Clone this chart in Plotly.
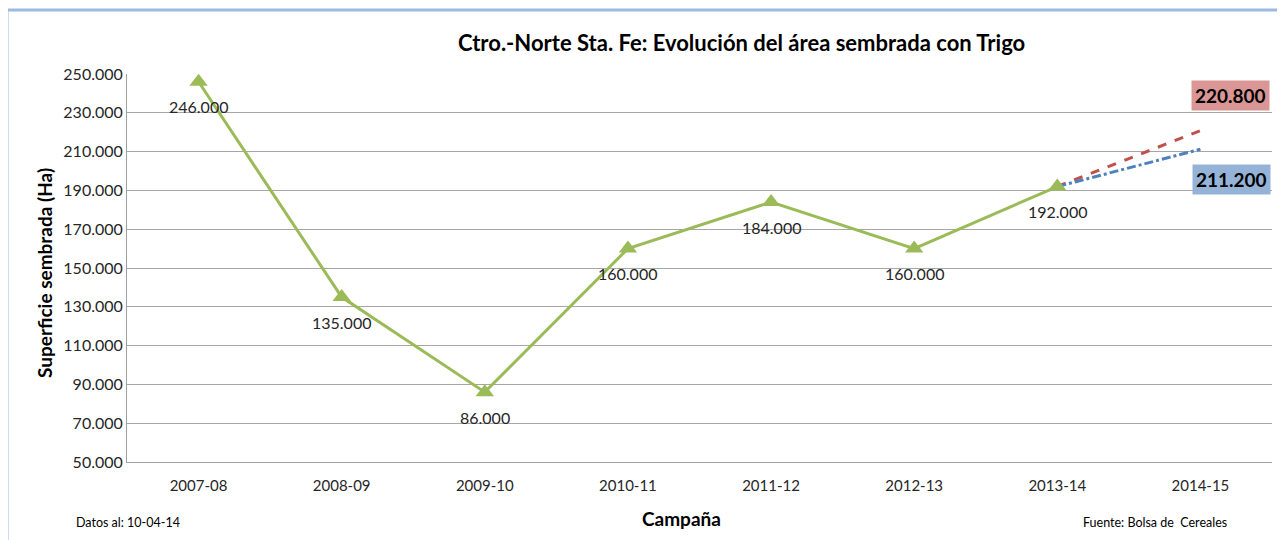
import plotly.graph_objects as go

campanas = ["2007-08", "2008-09", "2009-10", "2010-11", "2011-12", "2012-13", "2013-14", "2014-15"]
superficie = [246000, 135000, 86000, 160000, 184000, 160000, 192000]
proy_x = ["2013-14", "2014-15"]
proy_alta = [192000, 220800]
proy_baja = [192000, 211200]
y_ticks = list(range(50000, 250001, 20000))

W, H = 1285, 540
OFF = 8  # page body margin
ML, MT = 127 - OFF, 74 - OFF
PW, PH = 1145, 388
MR = W - ML - PW
MB = H - MT - PH

def px(x):
    return (x - OFF - ML) / PW

def py(y):
    return (MT + PH - (y - OFF)) / PH

FONT = "Lato, Calibri, sans-serif"

fig = go.Figure()

fig.add_trace(go.Scatter(
    x=proy_x, y=proy_alta, mode="lines",
    line=dict(color="#C0504D", width=3, dash="dash"),
    hoverinfo="skip", showlegend=False))
fig.add_trace(go.Scatter(
    x=proy_x, y=proy_baja, mode="lines",
    line=dict(color="#4F81BD", width=3, dash="dashdot"),
    hoverinfo="skip", showlegend=False))
fig.add_trace(go.Scatter(
    x=campanas[:len(superficie)], y=superficie, mode="lines+markers",
    line=dict(color="#9BBB59", width=3),
    marker=dict(symbol="triangle-up", size=16, color="#9BBB59"),
    showlegend=False))

def fmt(v):
    return f"{v:,.0f}".replace(",", ".")

annotations = []
for c, v in zip(campanas, superficie):
    annotations.append(dict(x=c, y=v, xref="x", yref="y", text=fmt(v),
                            showarrow=False, yshift=-25,
                            font=dict(family=FONT, size=16, color="#262626")))

annotations.append(dict(x=proy_x[1], y=proy_alta[1], xref="x", yref="y",
                        text="<b>" + fmt(proy_alta[1]) + "</b>", showarrow=False,
                        xshift=30, yshift=35, bgcolor="#D99694", borderpad=3,
                        font=dict(family=FONT, size=19, color="#000000")))
annotations.append(dict(x=proy_x[1], y=proy_baja[1], xref="x", yref="y",
                        text="<b>" + fmt(proy_baja[1]) + "</b>", showarrow=False,
                        xshift=31, yshift=-30, bgcolor="#95B3D7", borderpad=3,
                        font=dict(family=FONT, size=19, color="#000000")))

annotations += [
    dict(x=px(741), y=py(42), xref="paper", yref="paper", showarrow=False,
         xanchor="center", yanchor="middle",
         text="<b>Ctro.-Norte Sta. Fe: Evolución del área sembrada con Trigo</b>",
         font=dict(family=FONT, size=22, color="#000000")),
    dict(x=px(44), y=py(273), xref="paper", yref="paper", showarrow=False,
         xanchor="center", yanchor="middle",
         text="<b>Superficie sembrada (Ha)</b>", textangle=-90,
         font=dict(family=FONT, size=19, color="#000000")),
    dict(x=px(681), y=py(518), xref="paper", yref="paper", showarrow=False,
         xanchor="center", yanchor="middle",
         text="<b>Campaña</b>", font=dict(family=FONT, size=19, color="#000000")),
    dict(x=px(74), y=py(522), xref="paper", yref="paper", showarrow=False,
         xanchor="left", yanchor="middle", text="Datos al: 10-04-14",
         font=dict(family=FONT, size=12.5, color="#000000")),
    dict(x=px(1229), y=py(522), xref="paper", yref="paper", showarrow=False,
         xanchor="right", yanchor="middle", text="Fuente: Bolsa de  Cereales",
         font=dict(family=FONT, size=12.5, color="#000000")),
]

shapes = [
    dict(type="line", xref="paper", yref="paper", x0=px(7), x1=px(7), y0=py(560), y1=py(10),
         line=dict(color="#9DB9E0", width=3)),
    dict(type="line", xref="paper", yref="paper", x0=px(6), x1=px(1300), y0=py(10), y1=py(10),
         line=dict(color="#9DB9E0", width=3)),
]

fig.update_layout(
    width=W, height=H,
    margin=dict(l=ML, r=MR, t=MT, b=MB),
    paper_bgcolor="white", plot_bgcolor="white",
    separators=",.",
    showlegend=False,
    annotations=annotations,
    shapes=shapes,
    font=dict(family=FONT, color="#262626"),
    xaxis=dict(type="category", categoryorder="array", categoryarray=campanas,
               range=[-0.5, len(campanas) - 0.5],
               showgrid=False, showline=True, linecolor="#A0A0A0", linewidth=1,
               ticks="", tickfont=dict(family=FONT, size=15, color="#262626"),
               ticklabelstandoff=10, zeroline=False),
    yaxis=dict(range=[50000, 250000], tickvals=y_ticks, tickformat=",.0f",
               showgrid=True, gridcolor="#A6A6A6", gridwidth=1,
               showline=True, linecolor="#A0A0A0", linewidth=1,
               ticks="", tickfont=dict(family=FONT, size=16, color="#262626"),
               ticklabelstandoff=0, zeroline=False),
)

fig.write_html("out.html")
